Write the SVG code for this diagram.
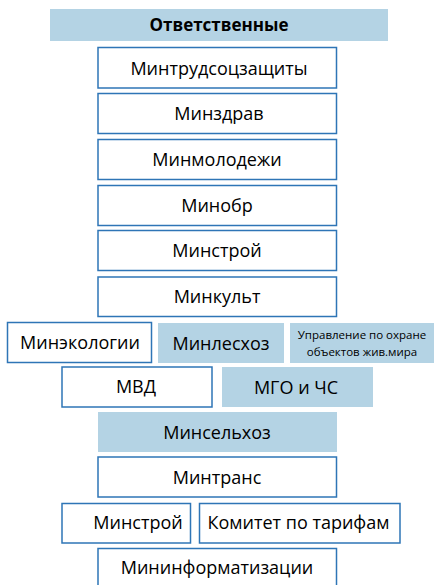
<svg xmlns="http://www.w3.org/2000/svg" width="434" height="585" viewBox="0 0 434 585">
<style>
.w{fill:#ffffff;stroke:#2e75b6;stroke-width:1.5}
.b{fill:#b4d3e4;stroke:none}
text{font-family:"Open Sans","Noto Sans",sans-serif;font-size:18px;fill:#000;text-anchor:middle}
.h{font-weight:bold;font-size:17px}
.s{font-size:11.5px}
</style>
<rect width="434" height="585" fill="#fff"/>
<g id="header"><rect class="b" x="50" y="9" width="338" height="32"/><text class="h" x="219" y="31">Ответственные</text></g>
<g id="n1"><rect class="w" x="98" y="47.5" width="238.5" height="40.5"/><text x="219" y="75">Минтрудсоцзащиты</text></g>
<g id="n2"><rect class="w" x="98" y="93.5" width="238.5" height="40"/><text x="219" y="120">Минздрав</text></g>
<g id="n3"><rect class="w" x="98" y="139.5" width="238.5" height="40"/><text x="217" y="166">Минмолодежи</text></g>
<g id="n4"><rect class="w" x="98" y="185.5" width="238.5" height="40"/><text x="217" y="212">Минобр</text></g>
<g id="n5"><rect class="w" x="98" y="230.5" width="238.5" height="40"/><text x="217" y="257">Минстрой</text></g>
<g id="n6"><rect class="w" x="98" y="277" width="238.5" height="39.5"/><text x="217" y="303">Минкульт</text></g>
<g id="n7"><rect class="w" x="7.5" y="322.5" width="144" height="40"/><text x="80" y="349">Минэкологии</text></g>
<g id="n8"><rect class="b" x="158" y="323" width="126" height="40"/><text x="221" y="350">Минлесхоз</text></g>
<g id="n9"><rect class="b" x="290" y="323" width="144" height="40"/><text class="s" x="362" y="339">Управление по охране</text><text class="s" x="362" y="356">объектов жив.мира</text></g>
<g id="n10"><rect class="w" x="62" y="367" width="150" height="40"/><text x="136" y="393">МВД</text></g>
<g id="n11"><rect class="b" x="222" y="367" width="151" height="40"/><text x="296" y="394">МГО и ЧС</text></g>
<g id="n12"><rect class="b" x="98" y="412" width="239" height="40"/><text x="217" y="439">Минсельхоз</text></g>
<g id="n13"><rect class="w" x="98" y="457" width="238.5" height="40"/><text x="217" y="484">Минтранс</text></g>
<g id="n14"><rect class="w" x="62" y="503.5" width="128.5" height="39.5"/><text x="138" y="529">Минстрой</text></g>
<g id="n15"><rect class="w" x="199.5" y="503.5" width="200.5" height="39.5"/><text x="298.5" y="529">Комитет по тарифам</text></g>
<g id="n16"><rect class="w" x="98" y="548.5" width="238.5" height="40"/><text x="217" y="574">Мининформатизации</text></g>
<g id="connectors"/>
</svg>
